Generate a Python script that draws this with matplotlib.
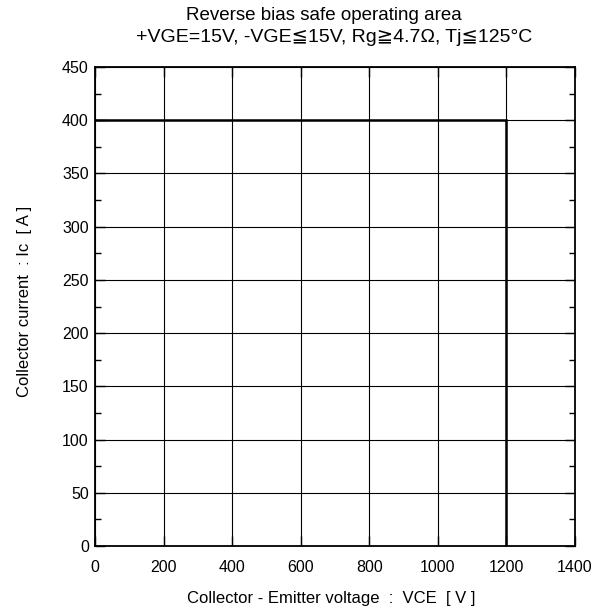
import matplotlib
matplotlib.use("AGG")
import matplotlib.pyplot as plt
from matplotlib.ticker import MultipleLocator

plt.rcParams["font.family"] = ["Liberation Sans", "DejaVu Sans"]

# RBSOA boundary
vce = [0, 1200, 1200]
ic = [400, 400, 0]

x_ticks = [0, 200, 400, 600, 800, 1000, 1200, 1400]
y_ticks = [0, 50, 100, 150, 200, 250, 300, 350, 400, 450]

W, H = 614, 609
fig = plt.figure(figsize=(W / 100, H / 100), dpi=100)
ax = fig.add_axes([95 / W, 1 - 546 / H, 480 / W, 479 / H])

ax.plot(vce, ic, color="black", linewidth=1.8, solid_joinstyle="miter")

ax.set_xlim(0, 1400)
ax.set_ylim(0, 450)
ax.set_xticks(x_ticks)
ax.set_yticks(y_ticks)
ax.yaxis.set_minor_locator(MultipleLocator(25))
ax.tick_params("both", which="major", direction="in", top=True, right=True,
               length=7, width=1, labelsize=11.5)
ax.tick_params("x", pad=10)
ax.tick_params("y", pad=4.5)
ax.tick_params("y", which="minor", direction="in", left=True, right=True,
               length=4, width=1)
ax.grid(True, which="major", color="black", linewidth=0.8)
for s in ax.spines.values():
    s.set_linewidth(1.3)

fig.text(331 / W, 1 - 599 / H, "Collector - Emitter voltage  :  VCE  [ V ]",
         fontsize=12, ha="center", va="center")
fig.text(25 / W, 1 - 301 / H, "Collector current  : Ic  [ A ]",
         fontsize=12, ha="center", va="center", rotation=90)
fig.text(324 / W, 1 - 16 / H, "Reverse bias safe operating area",
         fontsize=13.5, ha="center", va="center")
fig.text(334 / W, 1 - 38 / H, "+VGE=15V, -VGE\u226615V, Rg\u22674.7\u03a9, Tj\u2266125°C",
         fontsize=14, ha="center", va="center")

fig.savefig("out.png", dpi=100)
